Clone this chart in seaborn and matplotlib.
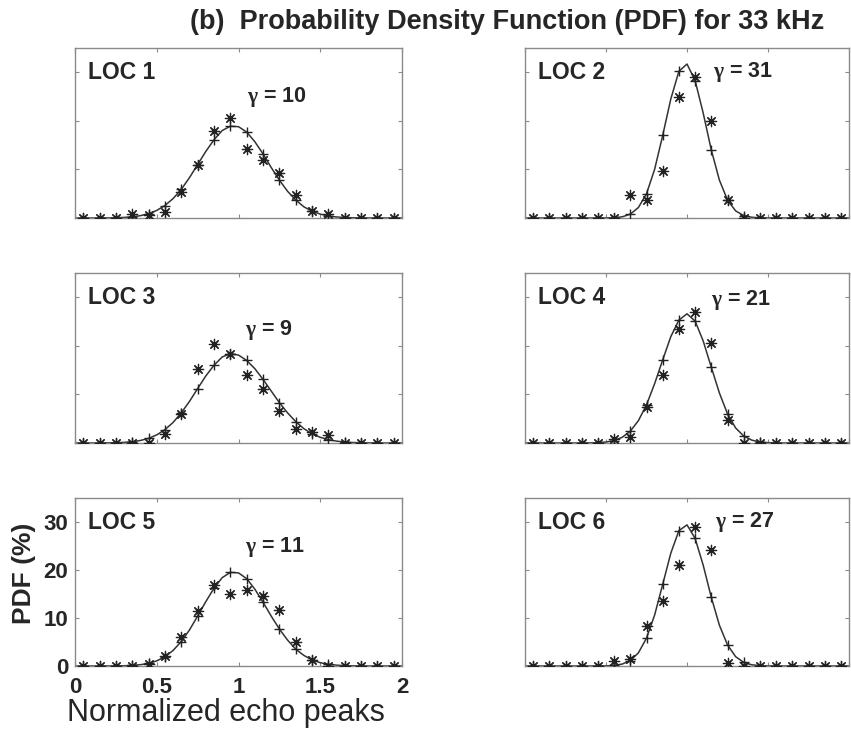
"""
PDF of normalized echo peaks, 33 kHz, six locations (panel b).
"""

import numpy as np
import matplotlib
matplotlib.use('Agg')
import matplotlib.pyplot as plt
import seaborn as sns
import pandas as pd

# x grid of the fitted curve and the histogram bin centres
fit_x = np.round(np.arange(0, 2.001, 0.05), 2)
bin_x = fit_x[1::2]

locations = ['LOC 1', 'LOC 2', 'LOC 3', 'LOC 4', 'LOC 5', 'LOC 6']
gammas = [10, 31, 9, 21, 11, 27]

# fitted PDF (%) at fit_x
curve_loc1 = [0, 0, 0, 0.01, 0.02, 0.05, 0.12, 0.24, 0.48, 0.88, 1.56, 2.57, 4.0, 5.9,
              8.3, 11.0, 13.7, 16.1, 18.0, 18.9, 18.8, 17.7, 15.7, 13.2, 10.4, 7.8, 5.5,
              3.7, 2.3, 1.4, 0.8, 0.42, 0.21, 0.1, 0.05, 0.02, 0.01, 0, 0, 0, 0]
curve_loc2 = [0, 0, 0, 0, 0, 0, 0, 0, 0, 0, 0.02, 0.06, 0.24, 0.79, 2.16, 5.0, 10.0,
              17.0, 24.5, 30.2, 31.7, 28.3, 21.6, 14.0, 7.8, 3.7, 1.47, 0.5, 0.15, 0.04,
              0.01, 0, 0, 0, 0, 0, 0, 0, 0, 0, 0]
curve_loc3 = [0, 0, 0, 0.01, 0.03, 0.06, 0.13, 0.27, 0.52, 0.96, 1.67, 2.74, 4.23, 6.2,
              8.55, 11.2, 13.8, 16.0, 17.7, 18.4, 18.1, 17.0, 15.3, 13.1, 10.7, 8.3, 6.2,
              4.4, 2.95, 1.9, 1.17, 0.69, 0.38, 0.2, 0.1, 0.05, 0.02, 0.01, 0, 0, 0]
curve_loc4 = [0, 0, 0, 0, 0, 0, 0, 0.01, 0.02, 0.07, 0.2, 0.51, 1.17, 2.43, 4.6, 7.85,
              12.2, 17.1, 21.9, 25.3, 26.6, 25.1, 21.0, 15.6, 10.3, 6.0, 3.1, 1.44, 0.59,
              0.21, 0.07, 0.02, 0, 0, 0, 0, 0, 0, 0, 0, 0]
curve_loc5 = [0, 0, 0, 0, 0.01, 0.02, 0.05, 0.13, 0.27, 0.56, 1.07, 1.93, 3.24, 5.1, 7.5,
              10.4, 13.4, 16.2, 18.4, 19.5, 19.4, 18.2, 16.0, 13.3, 10.4, 7.7, 5.4, 3.5,
              2.2, 1.27, 0.69, 0.36, 0.17, 0.08, 0.03, 0.01, 0, 0, 0, 0, 0]
curve_loc6 = [0, 0, 0, 0, 0, 0, 0, 0, 0, 0.01, 0.03, 0.12, 0.4, 1.12, 2.74, 5.8, 10.6,
              17.0, 23.5, 28.2, 29.4, 26.6, 21.0, 14.3, 8.5, 4.4, 1.95, 0.76, 0.25, 0.07,
              0.02, 0, 0, 0, 0, 0, 0, 0, 0, 0, 0]

# measured PDF (%) at bin_x
meas_loc1 = [0, 0, 0, 0.8, 0.7, 1.2, 5.4, 10.9, 18.0, 20.6, 14.2, 11.9, 9.3, 4.7, 1.4,
             0.8, 0, 0, 0, 0]
meas_loc2 = [0, 0, 0, 0, 0, 0, 4.7, 3.7, 9.7, 25.0, 29.0, 19.9, 3.8, 0, 0, 0, 0, 0, 0, 0]
meas_loc3 = [0, 0, 0, 0, 0, 1.9, 6.0, 15.3, 20.3, 18.3, 14.1, 11.2, 6.5, 2.9, 2.2, 1.7,
             0, 0, 0, 0]
meas_loc4 = [0, 0, 0, 0, 0, 0.8, 1.2, 7.4, 14.1, 23.4, 27.0, 20.6, 4.8, 0, 0, 0, 0, 0, 0, 0]
meas_loc5 = [0, 0, 0, 0, 0.5, 2.1, 6.0, 11.5, 16.8, 15.1, 15.8, 14.6, 11.6, 5.0, 1.2, 0,
             0, 0, 0, 0]
meas_loc6 = [0, 0, 0, 0, 0, 1.1, 1.4, 8.4, 13.6, 21.0, 29.0, 24.2, 0.7, 0, 0, 0, 0, 0, 0, 0]

curves = [curve_loc1, curve_loc2, curve_loc3, curve_loc4, curve_loc5, curve_loc6]
measured = [meas_loc1, meas_loc2, meas_loc3, meas_loc4, meas_loc5, meas_loc6]

# where the gamma label sits (data coords)
gamma_xy = [(1.05, 25.0), (1.16, 30.0), (1.04, 23.3), (1.15, 29.4), (1.04, 24.8), (1.17, 30.0)]

sns.set_theme(style='white')
plt.rcParams['font.family'] = ['Liberation Sans', 'DejaVu Sans']
plt.rcParams['mathtext.fontset'] = 'custom'
plt.rcParams['mathtext.rm'] = 'Liberation Serif'
plt.rcParams['mathtext.it'] = 'Liberation Serif:italic'
plt.rcParams['mathtext.bf'] = 'Liberation Serif:bold'

W, H = 851, 739
fig = plt.figure(figsize=(W / 100, H / 100), dpi=100)

# panel boxes in pixels: (left, top, right, bottom)
cols = [(75, 402), (525, 849)]
rows = [(48, 218), (273, 443), (498, 666)]

spine_col = '#8a8a8a'
asterisk = (8, 2, 0)

for i in range(6):
    r, c = divmod(i, 2)
    x0, x1 = cols[c]
    y0, y1 = rows[r]
    ax = fig.add_axes([x0 / W, 1 - y1 / H, (x1 - x0) / W, (y1 - y0) / H])

    df_fit = pd.DataFrame({'x': fit_x, 'pdf': curves[i]})
    df_bin = pd.DataFrame({'x': bin_x, 'fit': curves[i][1::2], 'meas': measured[i]})

    sns.lineplot(data=df_fit, x='x', y='pdf', ax=ax, color='#333333', lw=1.1)
    sns.scatterplot(data=df_bin, x='x', y='fit', ax=ax, marker='+', s=60,
                    color='#222222', linewidth=1.0, zorder=3)
    sns.scatterplot(data=df_bin, x='x', y='meas', ax=ax, marker=asterisk, s=55,
                    color='#222222', linewidth=0.9, zorder=3)

    ax.set_xlim(0, 2)
    ax.set_ylim(0, 35)
    ax.set_xticks([0, 0.5, 1, 1.5, 2])
    ax.set_yticks([0, 10, 20, 30])
    ax.tick_params(direction='in', length=3, width=0.8, color=spine_col,
                   top=True, right=True, bottom=True, left=True)
    for sp in ax.spines.values():
        sp.set_color(spine_col)
        sp.set_linewidth(1.0)
    ax.set_xlabel('')
    ax.set_ylabel('')

    if i == 4:
        ax.set_xticklabels(['0', '0.5', '1', '1.5', '2'])
        ax.set_yticklabels(['0', '10', '20', '30'])
        for lab in ax.get_xticklabels() + ax.get_yticklabels():
            lab.set_fontsize(16)
            lab.set_fontweight('bold')
        ax.tick_params(axis='x', pad=8)
        ax.tick_params(axis='y', pad=5)
        ax.set_xlabel('Normalized echo peaks', fontsize=22)
        ax.xaxis.set_label_coords(0.462, -0.19)
        ax.set_ylabel('PDF (%)', fontsize=19, fontweight='bold')
        ax.yaxis.set_label_coords(-0.12, 0.55)
    else:
        ax.set_xticklabels([])
        ax.set_yticklabels([])

    ax.text(0.04, 0.855, locations[i], transform=ax.transAxes, fontsize=16.5,
            fontweight='bold', ha='left', va='center')
    gx, gy = gamma_xy[i]
    ax.text(gx, gy, r'$\mathbf{\gamma}$' + f' = {gammas[i]}', fontsize=15.5,
            fontweight='bold', ha='left', va='center')

fig.text(507 / W, 1 - 22 / H, '(b)  Probability Density Function (PDF) for 33 kHz',
         ha='center', va='center', fontsize=19.5, fontweight='bold')

fig.savefig('out.png', dpi=100, facecolor='white')
